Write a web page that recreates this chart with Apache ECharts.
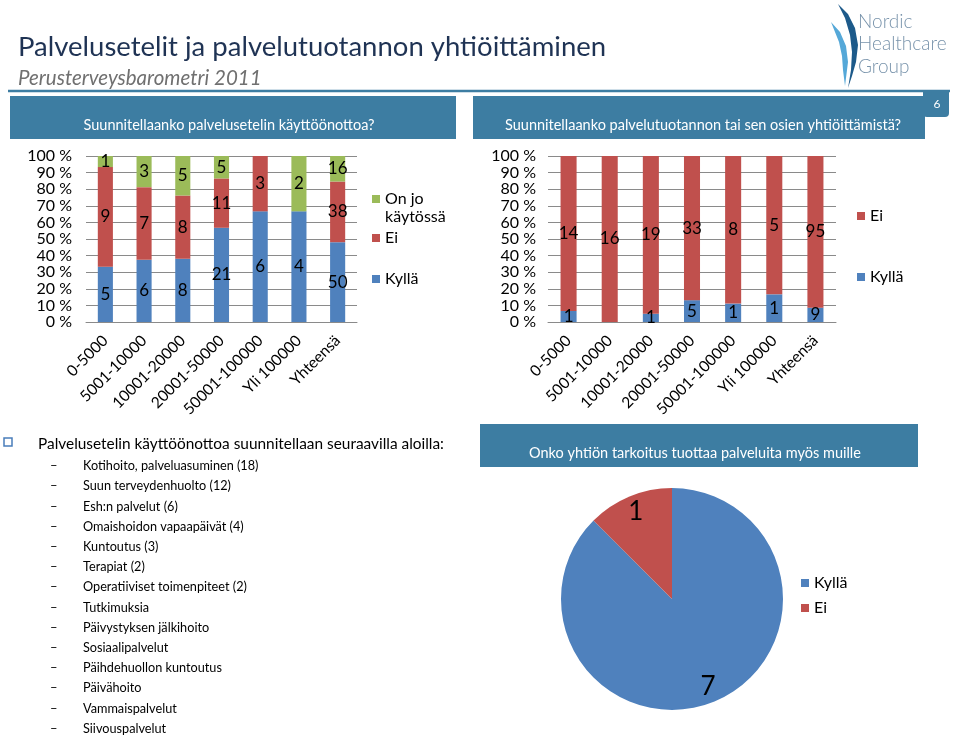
<!DOCTYPE html>
<html><head><meta charset="utf-8">
<script src="https://cdn.jsdelivr.net/npm/echarts@6/dist/echarts.min.js"></script>
<style>html,body{margin:0;padding:0;background:#fff}#c{width:960px;height:736px}</style>
</head><body><div id="c"></div>
<script>
// ---- data ----
const categories = ['0-5000','5001-10000','10001-20000','20001-50000','50001-100000','Yli 100000','Yhteensä'];
const voucherKylla = [5,6,8,21,6,4,50];
const voucherEi    = [9,7,8,11,3,0,38];
const voucherOnJo  = [1,3,5,5,0,2,16];
const companyKylla = [1,0,1,5,1,1,9];
const companyEi    = [14,16,19,33,8,5,95];
const pieNames  = ['Kyllä','Ei'];
const pieValues = [7,1];
const yTickMin = 0, yTickMax = 100, yTickStep = 10;
const listHeader = 'Palvelusetelin käyttöönottoa suunnitellaan seuraavilla aloilla:';
const listItems = ['Kotihoito, palveluasuminen (18)','Suun terveydenhuolto (12)','Esh:n palvelut (6)','Omaishoidon vapaapäivät (4)','Kuntoutus (3)','Terapiat (2)','Operatiiviset toimenpiteet (2)','Tutkimuksia','Päivystyksen jälkihoito','Sosiaalipalvelut','Päihdehuollon kuntoutus','Päivähoito','Vammaispalvelut','Siivouspalvelut'];

// ---- helpers ----
const BLUE='#4F81BD', RED='#C0504D', GREEN='#9BBB59', HEAD='#3D7DA2', FONT='Lato, "Open Sans", sans-serif';
function pct(arrs){
  return arrs.map(a => a.map((v,i) => {
    const tot = arrs.reduce((s,b)=>s+b[i],0);
    return {value: tot ? v/tot*100 : 0, raw: v};
  }));
}
const vP = pct([voucherKylla, voucherEi, voucherOnJo]);
const cP = pct([companyKylla, companyEi]);
const lbl = {show:true, position:'inside', color:'#000', fontSize:17, fontFamily:FONT,
  formatter: p => p.data.raw > 0 ? String(p.data.raw) : ''};
function bar(name, data, color, axis, stack){
  return {type:'bar', name, data, stack, xAxisIndex:axis, yAxisIndex:axis, barWidth:'39%',
    itemStyle:{color}, label:lbl, emphasis:{disabled:true}, animation:false};
}
const yAx = (gi) => ({type:'value', gridIndex:gi, min:yTickMin, max:yTickMax, interval:yTickStep,
  axisLabel:{formatter:'{value} %', color:'#000', fontSize:16, fontFamily:FONT, margin: gi?12:14},
  axisLine:{show:false}, axisTick:{show:false}, splitLine:{lineStyle:{color:'#8a8a8a'}}});
const xAx = (gi) => ({type:'category', gridIndex:gi, data:categories,
  axisLine:{lineStyle:{color:'#8a8a8a'}}, axisTick:{length:5, lineStyle:{color:'#8a8a8a'}},
  axisLabel:{rotate:45, interval:0, color:'#000', fontSize:15.5, fontFamily:FONT, margin:16}});

const legTxt = {color:'#000', fontSize:16, fontFamily:FONT};
function leg(name, left, top, extra){
  return Object.assign({data:[name], left, top, orient:'vertical', padding:0, itemWidth:8, itemHeight:8,
    itemGap:5, icon:'rect', selectedMode:false, textStyle:legTxt}, extra||{});
}

// ---- graphics (slide decoration & text) ----
const g = [];
function txt(text, x, y, size, color, style){
  g.push({type:'text', x, y, style:Object.assign({text, fill:color, font: size+'px '+FONT,
    textVerticalAlign:'middle'}, style||{})});
}
txt('Palvelusetelit ja palvelutuotannon yhtiöittäminen', 18, 47, 27.5, '#1F3354');
txt('Perusterveysbarometri 2011', 18, 78, 20, '#707070', {font:'italic 20.5px '+FONT});
g.push({type:'line', shape:{x1:8,y1:91,x2:950,y2:91}, style:{stroke:HEAD, lineWidth:2.5}});
g.push({type:'rect', shape:{x:923,y:91,width:26,height:26,r:[0,0,4,4]}, style:{fill:HEAD}});
txt('6', 937, 104, 12, '#fff', {textAlign:'center'});
g.push({type:'rect', shape:{x:10,y:96,width:446,height:43}, style:{fill:HEAD}});
g.push({type:'rect', shape:{x:473,y:96,width:452,height:43}, style:{fill:HEAD}});
txt('Suunnitellaanko palvelusetelin käyttöönottoa?', 229, 125, 14.5, '#fff', {textAlign:'center'});
txt('Suunnitellaanko palvelutuotannon tai sen osien yhtiöittämistä?', 703, 125, 14.5, '#fff', {textAlign:'center'});
g.push({type:'rect', shape:{x:480,y:424,width:438,height:43}, style:{fill:HEAD}});
txt('Onko yhtiön tarkoitus tuottaa palveluita myös muille', 695, 453, 14.5, '#fff', {textAlign:'center'});
// logo
g.push({type:'polygon', shape:{points:[[838,4],[848,14],[855,28],[858,45],[856,62],[852,76],[848,88],[851,70],[852,52],[850,35],[845,18]]}, style:{fill:'#1D5A8A'}});
g.push({type:'polygon', shape:{points:[[831,22],[840,32],[846,46],[848,62],[846,78],[845,86],[843,70],[842,56],[839,42]]}, style:{fill:'#55A8D8'}});
txt('Nordic', 858, 22, 19, '#7893AB', {font:'300 19px '+FONT});
txt('Healthcare', 858, 44, 19, '#7893AB', {font:'300 19px '+FONT});
txt('Group', 858, 67, 19, '#7893AB', {font:'300 19px '+FONT});
// bullet list
g.push({type:'rect', shape:{x:4,y:438,width:8,height:8}, style:{fill:'#fff', stroke:'#4A7EBB', lineWidth:1.5}});
txt(listHeader, 38, 444, 15.4, '#000');
listItems.forEach((s,i) => {
  const y = 466 + i*20.2;
  txt('–', 50, y, 13, '#000');
  txt(s, 83, y, 12.7, '#000');
});

const option = {
  animation:false,
  textStyle:{fontFamily:FONT},
  grid:[{left:86, top:156, width:271, height:166}, {left:548, top:156, width:288, height:166}],
  xAxis:[xAx(0), xAx(1)],
  yAxis:[yAx(0), yAx(1)],
  legend:[
    leg('On jo käytössä', 372, 172, {formatter: n => '\nOn jo\nkäytössä', textStyle:Object.assign({}, legTxt, {lineHeight:18})}),
    leg('Ei', 372, 230), leg('Kyllä', 372, 271),
    leg('Ei', 857, 208), leg('Kyllä', 857, 269),
    {data:pieNames, left:801, top:575, orient:'vertical', padding:0, itemWidth:8, itemHeight:8, itemGap:9, icon:'rect', selectedMode:false, textStyle:legTxt}
  ],
  series:[
    bar('Kyllä', vP[0], BLUE, 0, 'a'),
    bar('Ei', vP[1], RED, 0, 'a'),
    bar('On jo käytössä', vP[2], GREEN, 0, 'a'),
    bar('Kyllä', cP[0], BLUE, 1, 'b'),
    bar('Ei', cP[1], RED, 1, 'b'),
    {type:'pie', center:[672,599], radius:111, startAngle:90, clockwise:true, label:{show:false}, labelLine:{show:false},
      emphasis:{disabled:true}, data: pieNames.map((n,i)=>({name:n, value:pieValues[i], itemStyle:{color:[BLUE,RED][i]}}))},
    {type:'pie', center:[672,599], radius:[72,111], startAngle:90, clockwise:true, silent:true, legendHoverLink:false,
      label:{show:true, position:'inside', color:'#000', fontSize:26, fontFamily:FONT, formatter:'{c}'}, labelLine:{show:false},
      itemStyle:{color:'transparent'}, emphasis:{disabled:true},
      data: pieNames.map((n,i)=>({name:n+' ', value:pieValues[i]}))}
  ],
  graphic:{elements:g}
};
const chart = echarts.init(document.getElementById('c'), null, {renderer:'canvas'});
chart.setOption(option);
</script></body></html>
